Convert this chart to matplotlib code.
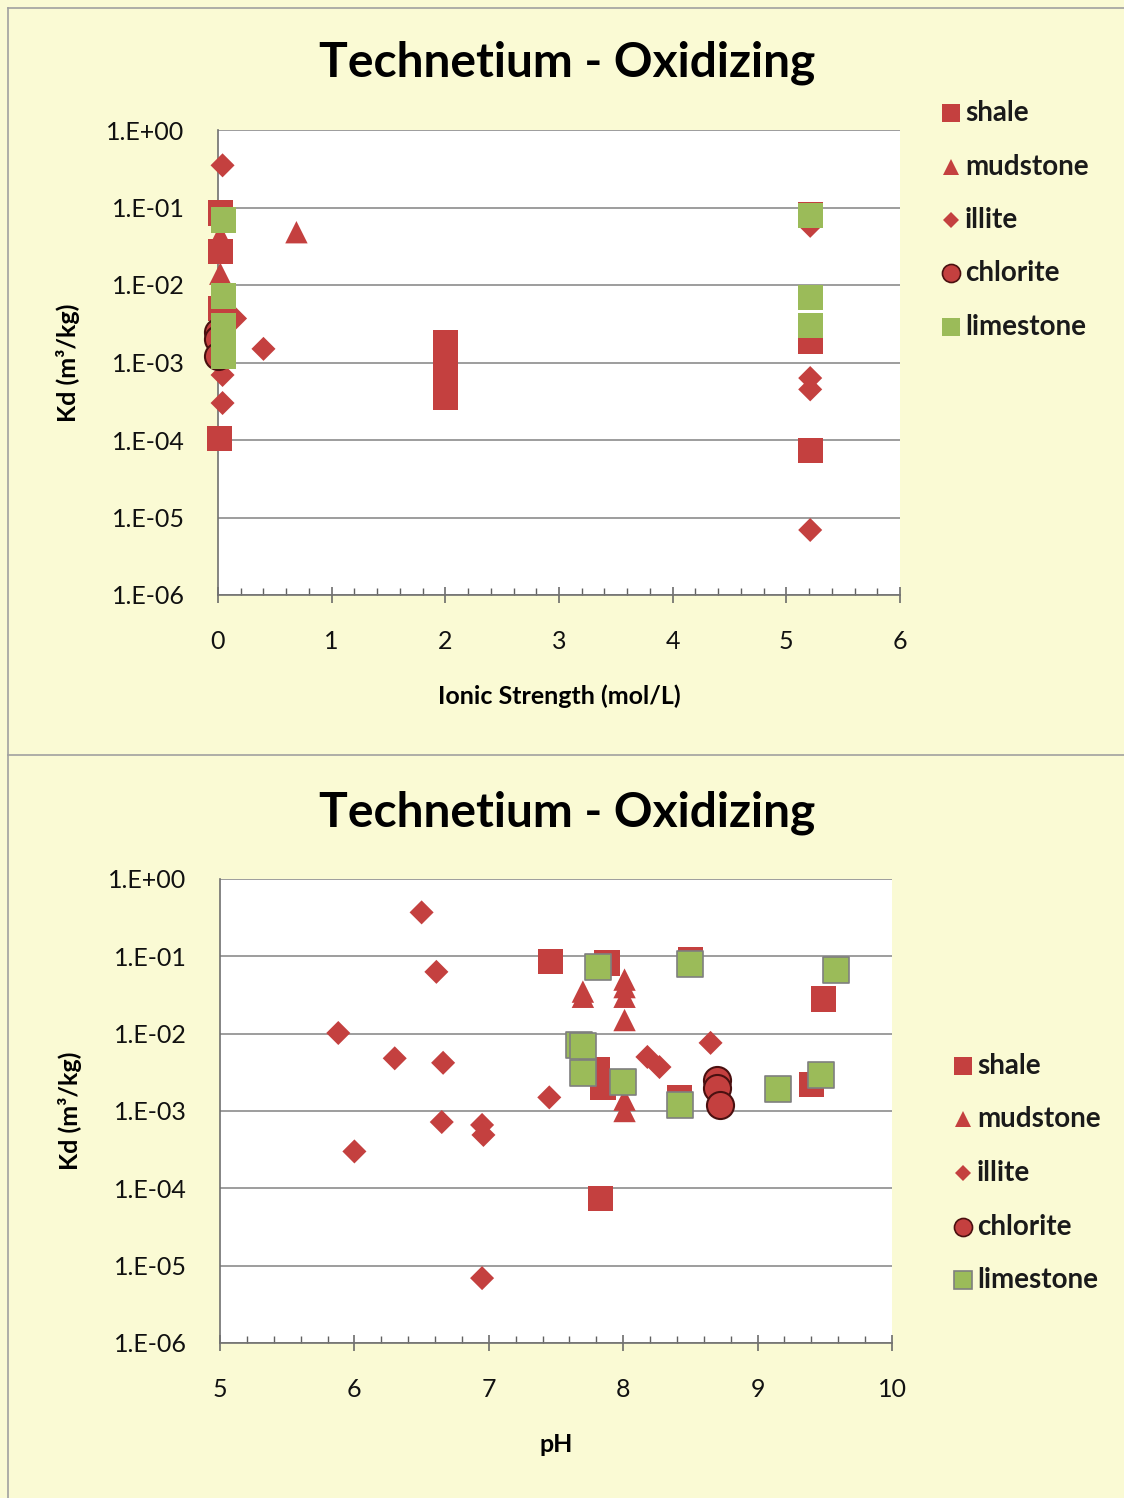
import matplotlib
matplotlib.use("Agg")
import matplotlib.pyplot as plt
from matplotlib.ticker import FixedLocator, MultipleLocator, NullLocator
from matplotlib.lines import Line2D

plt.rcParams['font.family'] = ['Lato', 'DejaVu Sans']

# ---------------- Data: Kd vs ionic strength ----------------
is_shale_x = [0.02, 0.02, 0.02, 0.01, 2.0, 2.0, 2.0, 2.0, 2.0, 2.0, 2.0, 5.21, 5.21, 5.21]
is_shale_y = [0.085, 0.027, 0.005, 0.000105, 0.0018, 0.0013, 0.001, 0.0008, 0.0006, 0.00045, 0.00035,
              0.082, 0.0019, 7.4e-5]
is_mud_x = [0.02, 0.02, 0.69]
is_mud_y = [0.044, 0.014, 0.048]
is_illite_x = [0.04, 0.15, 0.40, 0.04, 0.04, 5.21, 5.21, 5.21, 5.21]
is_illite_y = [0.35, 0.0037, 0.0015, 0.00069, 0.0003, 0.058, 0.00063, 0.00045, 6.9e-6]
is_chlor_x = [0.0, 0.0, 0.0]
is_chlor_y = [0.0025, 0.002, 0.0012]
is_lime_x = [0.05, 0.05, 0.05, 0.05, 0.05, 0.05, 0.05, 5.21, 5.21, 5.21]
is_lime_y = [0.069, 0.0072, 0.003, 0.0024, 0.0019, 0.0015, 0.0012, 0.078, 0.0069, 0.003]

# ---------------- Data: Kd vs pH ----------------
ph_shale_x = [7.46, 7.88, 8.50, 9.49, 9.40, 7.81, 7.85, 8.42, 7.83]
ph_shale_y = [0.085, 0.082, 0.09, 0.028, 0.0022, 0.0034, 0.002, 0.0015, 7.4e-5]
ph_mud_x = [7.70, 7.70, 8.01, 8.01, 8.01, 8.01, 8.01, 8.01, 7.72]
ph_mud_y = [0.035, 0.03, 0.05, 0.04, 0.03, 0.015, 0.0014, 0.001, 0.005]
ph_illite_x = [6.50, 6.61, 5.88, 6.30, 6.66, 6.65, 6.95, 6.96, 6.00, 6.95, 7.45, 8.18, 8.27, 8.65]
ph_illite_y = [0.37, 0.063, 0.0102, 0.0048, 0.0042, 0.00072, 0.00066, 0.00049, 0.0003, 6.9e-6,
               0.0015, 0.005, 0.0037, 0.0076]
ph_chlor_x = [8.70, 8.70, 8.72]
ph_chlor_y = [0.0025, 0.002, 0.0012]
ph_lime_x = [7.81, 8.50, 9.58, 7.67, 7.70, 7.70, 8.00, 8.42, 9.15, 9.47]
ph_lime_y = [0.073, 0.079, 0.066, 0.0071, 0.007, 0.0031, 0.0024, 0.0012, 0.0019, 0.0029]

y_ticks = [1e-6, 1e-5, 1e-4, 1e-3, 1e-2, 1e-1, 1e0]
y_tick_labels = ['1.E-06', '1.E-05', '1.E-04', '1.E-03', '1.E-02', '1.E-01', '1.E+00']
series_names = ['shale', 'mudstone', 'illite', 'chlorite', 'limestone']

RED = '#C4403F'
GREEN = '#9BBB59'
BG = '#FAFAD4'
GRID = '#8C8C8C'

fig = plt.figure(figsize=(11.24, 14.98), dpi=100, facecolor=BG)

# panel borders
for yy in [1 - 8 / 1498, 1 - 755 / 1498]:
    fig.add_artist(Line2D([0.007, 1.0], [yy, yy], color='#A0A0A0', lw=1.2))
fig.add_artist(Line2D([0.007, 0.007], [0.0, 1 - 8 / 1498], color='#A0A0A0', lw=1.2))


def style_axes(ax, xlim, xmaj, xmin):
    ax.set_yscale('log')
    ax.set_ylim(1e-6, 1e0)
    ax.set_xlim(*xlim)
    ax.set_facecolor('white')
    ax.yaxis.set_major_locator(FixedLocator(y_ticks))
    ax.yaxis.set_minor_locator(NullLocator())
    ax.set_yticklabels(y_tick_labels)
    ax.xaxis.set_major_locator(MultipleLocator(xmaj))
    ax.xaxis.set_minor_locator(MultipleLocator(xmin))
    ax.grid(axis='y', which='major', color=GRID, lw=1.2)
    ax.set_axisbelow(True)
    for s in ['top', 'right']:
        ax.spines[s].set_visible(False)
    for s in ['left', 'bottom']:
        ax.spines[s].set_color('#707070')
        ax.spines[s].set_linewidth(1.2)
    ax.tick_params(axis='y', length=0, pad=24, labelsize=18)
    ax.tick_params(axis='x', which='major', direction='inout', length=12, width=1.1,
                   color='#606060', labelsize=18, pad=19)
    ax.tick_params(axis='x', which='minor', direction='in', length=5, width=1.0, color='#606060')
    for lab in ax.get_xticklabels() + ax.get_yticklabels():
        lab.set_color('#111111')


def draw(ax, data, lime_edge):
    (sx, sy), (mx, my), (ix, iy), (cx, cy), (lx, ly) = data
    ax.scatter(sx, sy, marker='s', s=330, color=RED, edgecolors='none', zorder=3, clip_on=False)
    ax.scatter(mx, my, marker='^', s=260, color=RED, edgecolors='none', zorder=3, clip_on=False)
    ax.scatter(ix, iy, marker='D', s=150, color=RED, edgecolors='none', zorder=3, clip_on=False)
    ax.scatter(cx, cy, marker='o', s=380, color=RED, edgecolors='#4A1010', linewidths=1.5,
               zorder=4, clip_on=False)
    ax.scatter(lx, ly, marker='s', s=330, color=GREEN, edgecolors=lime_edge, linewidths=1.2,
               zorder=5, clip_on=False)


def legend(x0, ys, lime_edge):
    handles = [
        ('s', RED, 'none'), ('^', RED, 'none'), ('D', RED, 'none'),
        ('o', RED, '#4A1010'), ('s', GREEN, lime_edge),
    ]
    sizes = [13, 12, 8, 13, 13]
    for (m, c, ec), sz, name, yy in zip(handles, sizes, series_names, ys):
        fy = 1 - yy / 1498
        fig.add_artist(Line2D([x0 / 1124], [fy], marker=m, markersize=sz, color=c,
                              markeredgecolor=ec, markeredgewidth=1.2, linestyle='none'))
        fig.text((x0 + 14) / 1124, fy, name, fontsize=20, va='center', ha='left',
                 fontweight='bold', color='#1A1A1A')


# Top chart
ax1 = fig.add_axes([218 / 1124, 1 - 595 / 1498, (900 - 218) / 1124, (595 - 130) / 1498])
style_axes(ax1, (0, 6), 1, 0.2)
draw(ax1, [(is_shale_x, is_shale_y), (is_mud_x, is_mud_y), (is_illite_x, is_illite_y),
           (is_chlor_x, is_chlor_y), (is_lime_x, is_lime_y)], 'none')
ax1.set_xlabel('Ionic Strength (mol/L)', fontsize=18, fontweight='bold', labelpad=23)
ax1.set_ylabel('Kd (m³/kg)', fontsize=18, fontweight='bold', labelpad=19)
fig.text(567 / 1124, 1 - 63 / 1498, 'Technetium - Oxidizing', fontsize=34.5, fontweight='bold',
         ha='center', va='center')
legend(951, [113, 167, 220, 273, 327], 'none')

# Bottom chart
ax2 = fig.add_axes([220 / 1124, 1 - 1343 / 1498, (892 - 220) / 1124, (1343 - 879) / 1498])
style_axes(ax2, (5, 10), 1, 0.2)
draw(ax2, [(ph_shale_x, ph_shale_y), (ph_mud_x, ph_mud_y), (ph_illite_x, ph_illite_y),
           (ph_chlor_x, ph_chlor_y), (ph_lime_x, ph_lime_y)], '#7F7F7F')
ax2.set_xlabel('pH', fontsize=18, fontweight='bold', labelpad=23)
ax2.set_ylabel('Kd (m³/kg)', fontsize=18, fontweight='bold', labelpad=19)
fig.text(567 / 1124, 1 - 813 / 1498, 'Technetium - Oxidizing', fontsize=34.5, fontweight='bold',
         ha='center', va='center')
legend(963, [1066, 1119, 1173, 1227, 1280], '#7F7F7F')

fig.savefig('out.png', dpi=100, facecolor=BG)
